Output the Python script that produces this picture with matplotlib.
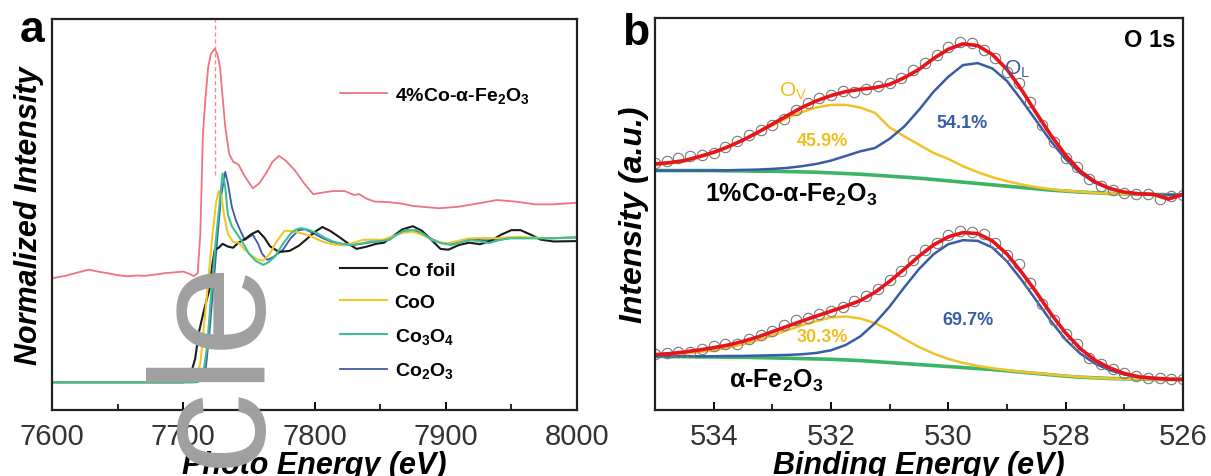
import matplotlib
matplotlib.use('Agg')
import matplotlib.pyplot as plt

plt.rcParams['font.family'] = ['Liberation Sans', 'DejaVu Sans']
plt.rcParams['mathtext.default'] = 'regular'

# ---------------- panel a : Co K-edge XANES (normalized, arbitrary offset)
fe_x = [7600, 7610, 7620, 7628, 7635, 7642, 7650, 7657, 7665, 7671, 7680, 7686, 7693, 7700,
        7705, 7708, 7711, 7713, 7715, 7717, 7719, 7721, 7724, 7726, 7728, 7730, 7732, 7735,
        7738, 7742, 7747, 7753, 7758, 7763, 7768, 7773, 7778, 7785, 7792, 7799, 7806, 7814,
        7823, 7830, 7834, 7840, 7846, 7855, 7866, 7875, 7881, 7895, 7910, 7924, 7939, 7946,
        7953, 7968, 7982, 8000]
fe_y = [0.337, 0.343, 0.352, 0.359, 0.354, 0.350, 0.345, 0.342, 0.344, 0.343, 0.347, 0.350,
        0.352, 0.354, 0.348, 0.342, 0.350, 0.450, 0.707, 0.800, 0.877, 0.910, 0.924, 0.910,
        0.877, 0.800, 0.724, 0.655, 0.635, 0.628, 0.597, 0.567, 0.580, 0.605, 0.635, 0.650,
        0.638, 0.613, 0.580, 0.552, 0.556, 0.560, 0.560, 0.550, 0.552, 0.540, 0.533, 0.532,
        0.528, 0.522, 0.520, 0.516, 0.520, 0.528, 0.537, 0.535, 0.533, 0.526, 0.526, 0.530]

foil_x = [7600, 7700, 7703, 7705, 7709, 7712, 7716, 7720, 7722, 7724, 7727, 7730, 7734, 7738,
          7742, 7747, 7752, 7757, 7762, 7766, 7773, 7781, 7788, 7794, 7800, 7806, 7812, 7819,
          7826, 7832, 7840, 7847, 7853, 7860, 7867, 7875, 7882, 7889, 7896, 7902, 7910, 7918,
          7926, 7934, 7942, 7950, 7957, 7965, 7972, 7982, 8000]
foil_y = [0.071, 0.071, 0.075, 0.084, 0.130, 0.200, 0.258, 0.309, 0.368, 0.410, 0.415, 0.425,
          0.418, 0.415, 0.428, 0.437, 0.450, 0.458, 0.440, 0.419, 0.404, 0.407, 0.420, 0.437,
          0.455, 0.468, 0.458, 0.442, 0.425, 0.412, 0.418, 0.425, 0.428, 0.445, 0.462, 0.470,
          0.458, 0.435, 0.412, 0.410, 0.422, 0.428, 0.424, 0.432, 0.448, 0.460, 0.460, 0.448,
          0.436, 0.431, 0.432]

coo_x = [7600, 7705, 7710, 7713, 7716, 7719, 7722, 7725, 7727, 7729, 7731, 7734, 7738, 7742,
         7747, 7752, 7757, 7761, 7766, 7771, 7777, 7783, 7790, 7797, 7805, 7813, 7823, 7830,
         7837, 7845, 7852, 7860, 7867, 7875, 7882, 7889, 7896, 7902, 7910, 7918, 7930, 7939,
         7948, 7956, 7965, 7982, 8000]
coo_y = [0.071, 0.071, 0.078, 0.120, 0.220, 0.330, 0.440, 0.530, 0.560, 0.550, 0.500, 0.450,
         0.430, 0.428, 0.410, 0.395, 0.385, 0.382, 0.400, 0.430, 0.458, 0.458, 0.452, 0.445,
         0.432, 0.424, 0.421, 0.428, 0.435, 0.436, 0.435, 0.445, 0.453, 0.456, 0.448, 0.436,
         0.428, 0.427, 0.433, 0.439, 0.440, 0.439, 0.442, 0.443, 0.441, 0.439, 0.442]

co3o4_x = [7600, 7708, 7712, 7715, 7718, 7720, 7722, 7725, 7728, 7730, 7732, 7734, 7737, 7741,
           7745, 7750, 7755, 7761, 7765, 7770, 7776, 7782, 7786, 7790, 7796, 7802, 7808, 7814,
           7821, 7828, 7836, 7843, 7850, 7857, 7863, 7869, 7878, 7884, 7889, 7896, 7904, 7911,
           7918, 7925, 7933, 7940, 7948, 7962, 7982, 8000]
co3o4_y = [0.071, 0.071, 0.075, 0.090, 0.156, 0.240, 0.327, 0.440, 0.540, 0.605, 0.570, 0.500,
           0.470, 0.450, 0.430, 0.400, 0.382, 0.371, 0.378, 0.393, 0.425, 0.452, 0.462, 0.465,
           0.460, 0.452, 0.440, 0.431, 0.425, 0.422, 0.426, 0.431, 0.432, 0.435, 0.449, 0.460,
           0.460, 0.448, 0.435, 0.427, 0.422, 0.428, 0.435, 0.432, 0.427, 0.434, 0.439, 0.439,
           0.439, 0.442]

co2o3_x = [7600, 7710, 7714, 7717, 7720, 7723, 7726, 7729, 7732, 7734, 7737, 7740, 7744, 7747,
           7750, 7753, 7757, 7760, 7764, 7768, 7772, 7776, 7782, 7788, 7793, 7799, 7806, 7813,
           7820, 7828, 7836, 7845, 7852, 7860, 7867, 7875, 7882, 7889, 7896, 7904, 7912, 7920,
           7930, 7940, 7950, 7962, 7982, 8000]
co2o3_y = [0.071, 0.071, 0.076, 0.100, 0.200, 0.320, 0.440, 0.550, 0.609, 0.580, 0.520, 0.486,
           0.455, 0.435, 0.442, 0.448, 0.425, 0.400, 0.384, 0.390, 0.400, 0.410, 0.440, 0.460,
           0.462, 0.452, 0.440, 0.430, 0.424, 0.421, 0.425, 0.430, 0.433, 0.445, 0.456, 0.458,
           0.452, 0.438, 0.428, 0.424, 0.430, 0.436, 0.434, 0.435, 0.440, 0.440, 0.440, 0.441]

edge_pos = 7724

# ---------------- panel b : O 1s XPS fits
be = [535.0, 534.75, 534.5, 534.25, 534.0, 533.75, 533.5, 533.25, 533.0, 532.75, 532.5, 532.25,
      532.0, 531.75, 531.5, 531.25, 531.0, 530.75, 530.5, 530.25, 530.0, 529.75, 529.5, 529.25,
      529.0, 528.75, 528.5, 528.25, 528.0, 527.75, 527.5, 527.25, 527.0, 526.75, 526.5, 526.25,
      526.0]

co_fit = [742, 746, 752, 764, 777, 794, 814, 837, 862, 887, 912, 932, 948, 960, 967, 972, 982,
          1002, 1027, 1060, 1088, 1104, 1099, 1072, 1027, 965, 895, 828, 768, 720, 688, 668,
          657, 652, 650, 636, 650]
co_ov = [738, 743, 750, 761, 775, 793, 813, 836, 858, 880, 898, 912, 920, 920, 912, 896, 852,
         825, 800, 775, 757, 735, 717, 702, 690, 680, 672, 666, 661, 658, 655, 653, 652, 651,
         650, 649, 649]
co_ol = [722, 722, 722, 722, 722, 723, 724, 725, 727, 730, 735, 742, 752, 766, 780, 790, 818,
         855, 905, 960, 1005, 1040, 1046, 1030, 992, 934, 872, 810, 756, 714, 685, 667, 657,
         652, 650, 649, 649]
co_bg = [722, 722, 722, 722, 722, 721, 721, 720, 720, 719, 718, 717, 715, 713, 711, 708, 705,
         702, 699, 695, 691, 687, 683, 679, 675, 671, 667, 663, 660, 657, 655, 653, 652, 651,
         650, 649, 649]

fe_fit = [167, 170, 175, 181, 188, 196, 207, 220, 236, 252, 268, 283, 298, 313, 330, 355, 388,
          425, 464, 498, 522, 535, 532, 510, 470, 415, 355, 290, 232, 185, 150, 127, 110, 100,
          96, 93, 92]
fe_ov = [164, 166, 170, 175, 180, 188, 198, 210, 225, 240, 255, 268, 279, 282, 276, 262, 240,
         214, 190, 170, 154, 142, 133, 126, 120, 115, 111, 107, 103, 100, 97, 95, 94, 93, 92,
         92, 92]
fe_ol = [162, 162, 162, 162, 162, 163, 163, 164, 165, 166, 168, 172, 180, 196, 222, 262, 312,
         370, 425, 470, 500, 512, 510, 490, 448, 392, 330, 268, 212, 170, 140, 120, 107, 99,
         95, 93, 92]
fe_bg = [162, 161, 161, 160, 160, 159, 159, 158, 157, 156, 155, 154, 153, 151, 149, 146, 143,
         140, 137, 134, 131, 128, 125, 122, 118, 114, 110, 106, 102, 99, 97, 95, 94, 93, 92, 92,
         92]

raw_be = [535.0, 534.8, 534.6, 534.4, 534.2, 534.0, 533.8, 533.6, 533.4, 533.2, 533.0, 532.8,
          532.6, 532.4, 532.2, 532.0, 531.8, 531.6, 531.4, 531.2, 531.0, 530.8, 530.6, 530.4,
          530.2, 530.0, 529.8, 529.6, 529.4, 529.2, 529.0, 528.8, 528.6, 528.4, 528.2, 528.0,
          527.8, 527.6, 527.4, 527.2, 527.0, 526.8, 526.6, 526.4, 526.2, 526.0]
co_raw = [745, 752, 760, 765, 770, 775, 792, 812, 830, 845, 860, 878, 905, 925, 940, 950, 962,
          960, 968, 978, 985, 1002, 1025, 1045, 1070, 1095, 1110, 1108, 1085, 1060, 1020, 985,
          930, 860, 808, 760, 732, 698, 676, 662, 655, 652, 650, 636, 644, 648]
fe_raw = [170, 172, 175, 176, 185, 192, 198, 200, 215, 226, 238, 255, 270, 276, 290, 300, 312,
          328, 345, 365, 392, 420, 452, 482, 505, 528, 540, 538, 530, 505, 468, 440, 382, 320,
          270, 228, 198, 158, 140, 125, 112, 104, 96, 95, 92, 93]

W, H = 1211, 477
fig = plt.figure(figsize=(W / 100, H / 100), dpi=100)
axa = fig.add_axes([52 / W, 66 / H, 525 / W, 391 / H])
axb = fig.add_axes([655 / W, 66 / H, 528 / W, 392 / H])

tick_col = '#333333'
for ax in (axa, axb):
    for sp in ax.spines.values():
        sp.set_linewidth(1.6)
        sp.set_color('#222222')
    ax.tick_params(axis='x', which='major', direction='in', length=6, width=1.4,
                   labelsize=21, labelcolor=tick_col, pad=9, top=False)
    ax.tick_params(axis='x', which='minor', direction='in', length=4, width=1.2, top=False)
    ax.set_yticks([])

# ---- panel a
axa.plot([edge_pos, edge_pos], [0.6, 1.0], color='#f28a94', lw=1.0, ls=(0, (3, 2)))
l_fe, = axa.plot(fe_x, fe_y, color='#ef7380', lw=1.3, label='4%Co-α-Fe$_2$O$_3$')
l_co2, = axa.plot(co2o3_x, co2o3_y, color='#3f5aa8', lw=1.3, label='Co$_2$O$_3$')
l_foil, = axa.plot(foil_x, foil_y, color='#1a1a1a', lw=1.5, label='Co foil')
l_coo, = axa.plot(coo_x, coo_y, color='#f0c828', lw=1.5, label='CoO')
l_co3, = axa.plot(co3o4_x, co3o4_y, color='#3dbf9a', lw=1.5, label='Co$_3$O$_4$')
axa.set_xlim(7600, 8000)
axa.set_ylim(0, 1)
axa.set_xticks([7600, 7700, 7800, 7900, 8000])
axa.set_xticks([7650, 7750, 7850, 7950], minor=True)
axa.set_xlabel('Photo Energy (eV)', fontsize=22, fontweight='bold', style='italic', labelpad=0)
axa.set_ylabel('Normalized Intensity', fontsize=22, fontweight='bold', style='italic', labelpad=6)

leg_prop = {'family': 'Liberation Sans', 'weight': 'bold', 'size': 14}
leg1 = axa.legend(handles=[l_fe], loc='center left', bbox_to_anchor=(0.549, 0.806),
                  frameon=False, prop=leg_prop, borderpad=0, borderaxespad=0,
                  handlelength=2.4, handletextpad=0.4)
axa.add_artist(leg1)
axa.legend(handles=[l_foil, l_coo, l_co3, l_co2], loc='center left',
           bbox_to_anchor=(0.549, 0.228), frameon=False, prop=leg_prop, borderpad=0,
           borderaxespad=0, handlelength=2.4, handletextpad=0.4, labelspacing=0.75)

# ---- panel b
for bg, ov, ol, raw, fit in ((co_bg, co_ov, co_ol, co_raw, co_fit),
                             (fe_bg, fe_ov, fe_ol, fe_raw, fe_fit)):
    axb.plot(be, bg, color='#3cb466', lw=2.6)
    axb.plot(be, ov, color='#f2c22a', lw=1.8)
    axb.plot(be, ol, color='#3a5ca6', lw=1.8)
    axb.plot(raw_be, raw, ls='none', marker='o', ms=7.5, mfc='none', mec='#7a7a7a', mew=0.8)
    axb.plot(be, fit, color='#e8141c', lw=2.6)

axb.set_xlim(535, 526)
axb.set_ylim(0, 1182)
axb.set_xticks([534, 532, 530, 528, 526])
axb.set_xticks([535, 533, 531, 529, 527], minor=True)
axb.set_xlabel('Binding Energy (eV)', fontsize=22, fontweight='bold', style='italic', labelpad=0)
axb.set_ylabel('Intensity (a.u.)', fontsize=23, fontweight='bold', style='italic', labelpad=4)

yel_txt = '#f0be1e'
blu_txt = '#3a5ca6'
axb.text(0.985, 0.975, 'O 1s', transform=axb.transAxes, ha='right', va='top',
         fontsize=17, fontweight='bold')
axb.text(532.65, 965, 'O$_V$', color=yel_txt, fontsize=15, ha='center', va='center')
axb.text(528.83, 1030, 'O$_L$', color=blu_txt, fontsize=15, ha='center', va='center')
axb.text(529.76, 867, '54.1%', color=blu_txt, fontsize=13, fontweight='bold', ha='center', va='center')
axb.text(532.15, 812, '45.9%', color=yel_txt, fontsize=13, fontweight='bold', ha='center', va='center')
axb.text(529.66, 272, '69.7%', color=blu_txt, fontsize=13, fontweight='bold', ha='center', va='center')
axb.text(532.15, 222, '30.3%', color=yel_txt, fontsize=13, fontweight='bold', ha='center', va='center')
axb.text(534.14, 652, '1%Co-α-Fe$_2$O$_3$', fontsize=18, fontweight='bold', ha='left', va='center')
axb.text(533.74, 92, 'α-Fe$_2$O$_3$', fontsize=18, fontweight='bold', ha='left', va='center')

# panel letters
fig.text(20 / W, 1 - 42 / H, 'a', fontsize=32, fontweight='bold', ha='left', va='baseline')
fig.text(622 / W, 1 - 45 / H, 'b', fontsize=32, fontweight='bold', ha='left', va='baseline')

# grey overlay lettering seen on the source image
fig.text(258 / W, 1 - 362 / H, 'cle', fontsize=118, color='#a0a0a0', rotation=90,
         rotation_mode='anchor', ha='center', va='baseline')

fig.savefig('out.png', dpi=100)
